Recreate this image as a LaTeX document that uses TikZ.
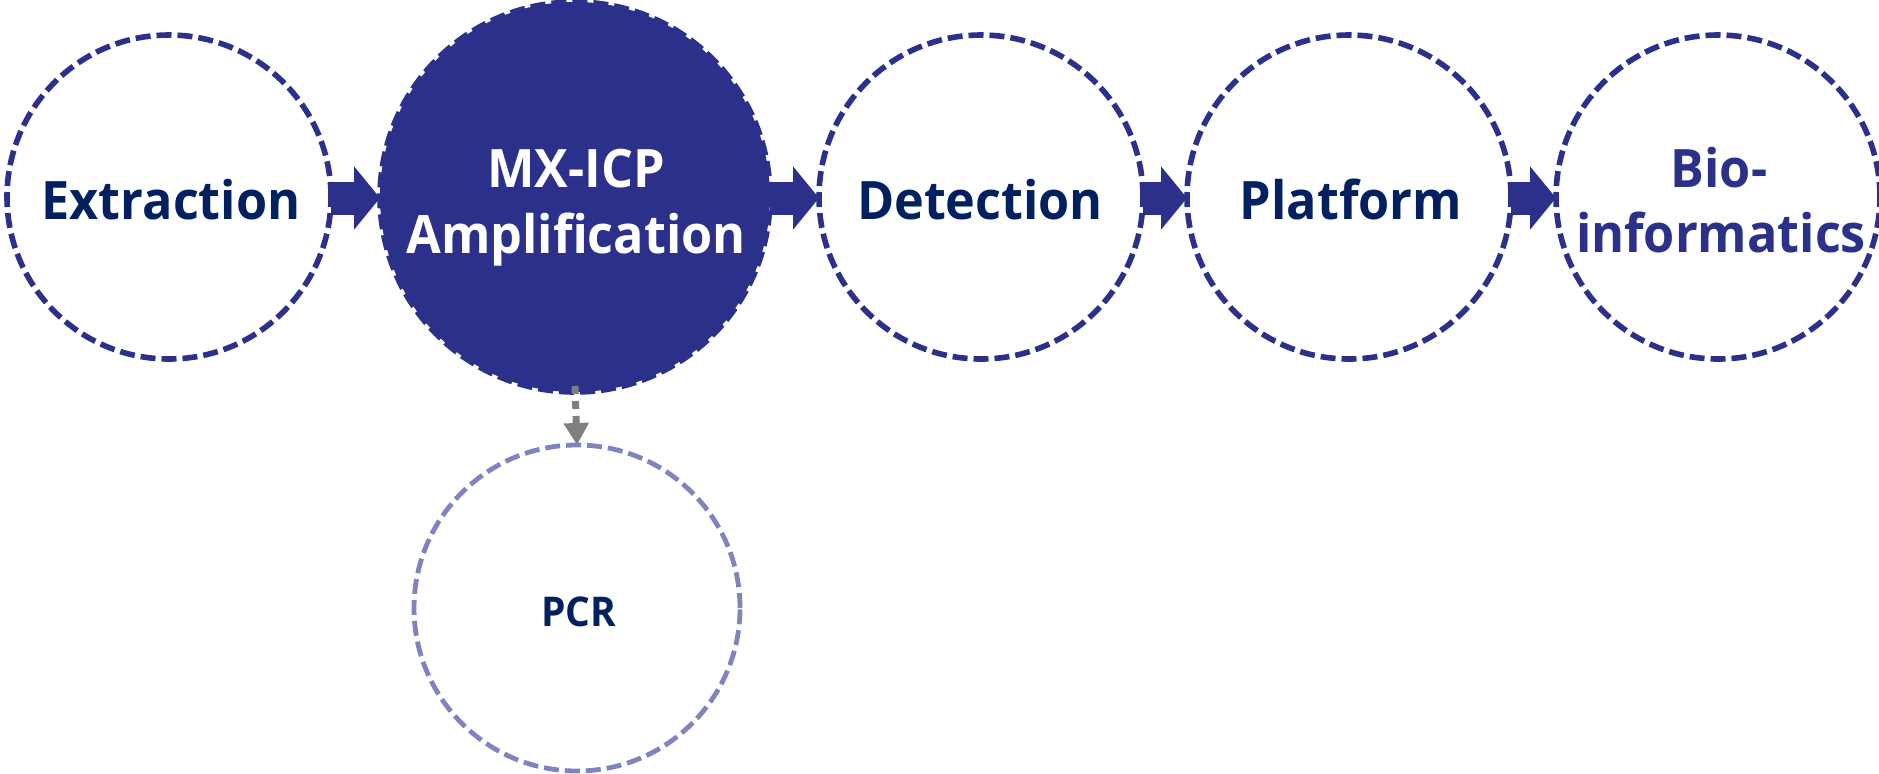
\documentclass[tikz,border=0pt]{standalone}
\usepackage{fontspec}
\setmainfont[FakeStretch=0.95]{Open Sans}
\usetikzlibrary{arrows.meta}
\definecolor{navy}{RGB}{43,49,139}
\definecolor{txtnavy}{RGB}{0,32,96}
\definecolor{lightnavy}{RGB}{128,132,190}
\definecolor{arrgray}{RGB}{127,127,127}
\begin{document}
\begin{tikzpicture}[x=0.5pt,y=-0.5pt,
  stepcirc/.style={circle, draw=navy, line width=2.8pt, dash pattern=on 7.5pt off 3pt,
    minimum size=162pt, inner sep=0pt, outer sep=0pt, fill=white},
  bigcirc/.style={stepcirc, fill=navy, minimum size=195pt},
  pcrcirc/.style={stepcirc, draw=lightnavy, line width=2.4pt, minimum size=163pt},
  lbl/.style={font=\fontsize{26.5}{31}\selectfont\bfseries, text=txtnavy, inner sep=0pt, anchor=base},
  blockarrow/.style={draw=navy, line width=16.5pt, line cap=butt,
    -{Triangle[width=31pt, length=13pt]}},
  grayarrow/.style={draw=arrgray, line width=3.5pt, dash pattern=on 4pt off 3.5pt,
    -{Triangle[width=12pt, length=11pt]}}
]
\useasboundingbox (0,0) rectangle (1879,773);
% circles
\node[stepcirc] (ext) at (169,197) {};
\node[bigcirc]  (mx)  at (575,197) {};
\node[stepcirc] (det) at (981,197) {};
\node[stepcirc] (plat) at (1349,197) {};
\node[stepcirc] (bio) at (1718,197) {};
\node[pcrcirc]  (pcr) at (577,608) {};
% labels
\node[lbl] (extT) at (171,219) {Extraction};
\node[lbl, text=white] (mxT1) at (576,187) {MX-ICP};
\node[lbl, text=white] (mxT2) at (576,253) {Amplification};
\node[lbl] (detT) at (980,219) {Detection};
\node[lbl] (platT) at (1351,219) {Platform};
\node[lbl, text=navy] (bioT1) at (1719,187) {Bio-};
\node[lbl, text=navy] (bioT2) at (1721,252) {informatics};
\node[lbl, font=\fontsize{20.5}{24}\selectfont\bfseries] (pcrT) at (579,626) {PCR};
% connectors
\draw[blockarrow] ([yshift=-0.5pt]ext.east) -- ([yshift=-0.5pt]mx.west);
\draw[blockarrow] ([yshift=-0.5pt]mx.east) -- ([yshift=-0.5pt]det.west);
\draw[blockarrow] ([yshift=-0.5pt]det.east) -- ([yshift=-0.5pt]plat.west);
\draw[blockarrow] ([yshift=-0.5pt]plat.east) -- ([yshift=-0.5pt]bio.west);
\draw[grayarrow] ([yshift=3pt]mx.south) -- (pcr.north);
\end{tikzpicture}
\end{document}
